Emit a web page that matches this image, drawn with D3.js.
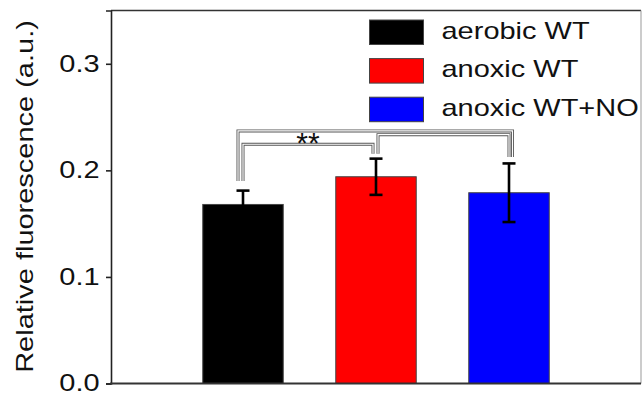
<!DOCTYPE html>
<html lang="en">
    <head>
        <meta charset="utf-8">
        <title>Relative fluorescence</title>
        <script type="text/javascript" src="https://d3js.org/d3.v7.min.js"></script>
        <style>
            body { margin: 0; background: #fff; }
            text { font-family: "Liberation Sans", Arial, sans-serif; }
        </style>
    </head>
    <body>
		<script type="text/javascript">

            var w = 642;
			var h = 395;
			var plotLeft = 111, plotRight = 641, plotTop = 10.5, plotBottom = 383.5;
			var sx = 1.26;   // text in the picture is stretched sideways

            // data
            var groups = ["aerobic WT", "anoxic WT", "anoxic WT+NO"];
            var means = [0.168, 0.194, 0.179];
            var errors = [0.013, 0.017, 0.0275];
            var colors = ["#000000", "#ff0000", "#0000ff"];
            var yTicks = [0.0, 0.1, 0.2, 0.3];

            // significance brackets: from bar, to bar, height of the bar line, label
            var bracketFrom = [0, 0, 1];
            var bracketTo = [2, 1, 2];
            var bracketTop = [0.237, 0.2245, 0.2335];
            var bracketLabel = ["", "**", ""];
            // where the bracket legs stop above each bar
            var legEnd = [0.19, 0.2155, 0.2125];

            var svg = d3.select("body")
						.append("svg")
						.attr("width", w)
						.attr("height", h);

            var xScale = d3.scaleBand()
                        .domain(groups)
                        .range([plotLeft, plotRight])
                        .paddingInner(0.395)
                        .paddingOuter(0.69);

            var yScale = d3.scaleLinear()
                        .domain([0, 0.35])
                        .range([plotBottom, plotTop]);

            // bars
            svg.selectAll("rect.bar")
                .data(groups)
                .enter()
                .append("rect")
                .attr("class", "bar")
                .attr("x", function(d) { return xScale(d); })
                .attr("y", function(d, i) { return yScale(means[i]); })
                .attr("width", xScale.bandwidth())
                .attr("height", function(d, i) { return plotBottom - yScale(means[i]); })
                .attr("fill", function(d, i) { return colors[i]; })
                .attr("stroke", "#444")
                .attr("stroke-width", 1);

            // error bars
            var cap = 6.5;
            var eb = svg.selectAll("g.err")
                .data(groups)
                .enter()
                .append("g")
                .attr("class", "err")
                .attr("stroke", "#000")
                .attr("stroke-width", 2.6);

            eb.append("line")
                .attr("x1", function(d) { return xScale(d) + xScale.bandwidth()/2; })
                .attr("x2", function(d) { return xScale(d) + xScale.bandwidth()/2; })
                .attr("y1", function(d, i) { return yScale(means[i] - errors[i]); })
                .attr("y2", function(d, i) { return yScale(means[i] + errors[i]); });
            [-1, 1].forEach(function(s) {
                eb.append("line")
                    .attr("x1", function(d) { return xScale(d) + xScale.bandwidth()/2 - cap; })
                    .attr("x2", function(d) { return xScale(d) + xScale.bandwidth()/2 + cap; })
                    .attr("y1", function(d, i) { return yScale(means[i] + s*errors[i]); })
                    .attr("y2", function(d, i) { return yScale(means[i] + s*errors[i]); });
            });

            // brackets, drawn as outlined double lines
            var legShift = [[-5, 3.5], [0, -3], [2, 0]];
            function cx(i) { return xScale(groups[i]) + xScale.bandwidth()/2; }
            bracketFrom.forEach(function(a, k) {
                var b = bracketTo[k];
                var x1 = cx(a) + legShift[k][0], x2 = cx(b) + legShift[k][1];
                var p = d3.path();
                p.moveTo(x1, yScale(legEnd[a]));
                p.lineTo(x1, yScale(bracketTop[k]));
                p.lineTo(x2, yScale(bracketTop[k]));
                p.lineTo(x2, yScale(legEnd[b]));
                svg.append("path").attr("d", p.toString())
                    .attr("fill", "none").attr("stroke", "#555").attr("stroke-width", 3);
                svg.append("path").attr("d", p.toString())
                    .attr("fill", "none").attr("stroke", "#fff").attr("stroke-width", 1.2);
                if (bracketLabel[k]) {
                    svg.append("text")
                        .attr("x", (x1 + x2)/2)
                        .attr("y", yScale(bracketTop[k]) + 9)
                        .attr("text-anchor", "middle")
                        .attr("fill", "#111")
                        .style("font-size", "30px")
                        .text(bracketLabel[k]);
                }
            });

            // frame
            svg.append("line").attr("x1", plotLeft).attr("x2", plotRight).attr("y1", plotTop).attr("y2", plotTop)
                .attr("stroke", "#333").attr("stroke-width", 1.5);
            svg.append("line").attr("x1", plotRight).attr("x2", plotRight).attr("y1", plotTop).attr("y2", plotBottom)
                .attr("stroke", "#999").attr("stroke-width", 1);

            // axes
            var yAxis = d3.axisLeft(yScale)
                        .tickValues(yTicks)
                        .tickSize(5)
                        .tickPadding(4)
                        .tickFormat(d3.format(".1f"));

            var gy = svg.append("g")
                .attr("transform", "translate(" + plotLeft + ",0)")
                .call(yAxis);
            gy.select(".domain").attr("stroke", "#222").attr("stroke-width", 1.6);
            gy.selectAll(".tick line").attr("stroke", "#222").attr("stroke-width", 1.6);
            gy.selectAll(".tick text")
                .attr("transform", "scale(" + sx + ",1)")
                .attr("fill", "#111")
                .style("font-size", "23px")
                .style("font-family", "'Liberation Sans', Arial, sans-serif");

            svg.append("line").attr("x1", plotLeft - 1).attr("x2", plotRight).attr("y1", plotBottom).attr("y2", plotBottom)
                .attr("stroke", "#333").attr("stroke-width", 2);

            // y label
            svg.append("text")
                .attr("transform", "translate(33," + 196.5 + ") rotate(-90) scale(" + sx + ",1)")
                .attr("text-anchor", "middle")
                .attr("fill", "#111")
                .style("font-size", "23px")
                .text("Relative fluorescence (a.u.)");

            // legend
            var lg = svg.selectAll("g.legend")
                .data(groups)
                .enter()
                .append("g")
                .attr("class", "legend")
                .attr("transform", function(d, i) { return "translate(369.5," + (20 + i*38.6) + ")"; });
            lg.append("rect")
                .attr("width", 54)
                .attr("height", 24.5)
                .attr("fill", function(d, i) { return colors[i]; })
                .attr("stroke", "#444")
                .attr("stroke-width", 1);
            lg.append("text")
                .attr("transform", "translate(72,18.5) scale(" + sx + ",1)")
                .attr("fill", "#111")
                .style("font-size", "23px")
                .text(function(d) { return d; });

        </script>
    </body>
</html>
